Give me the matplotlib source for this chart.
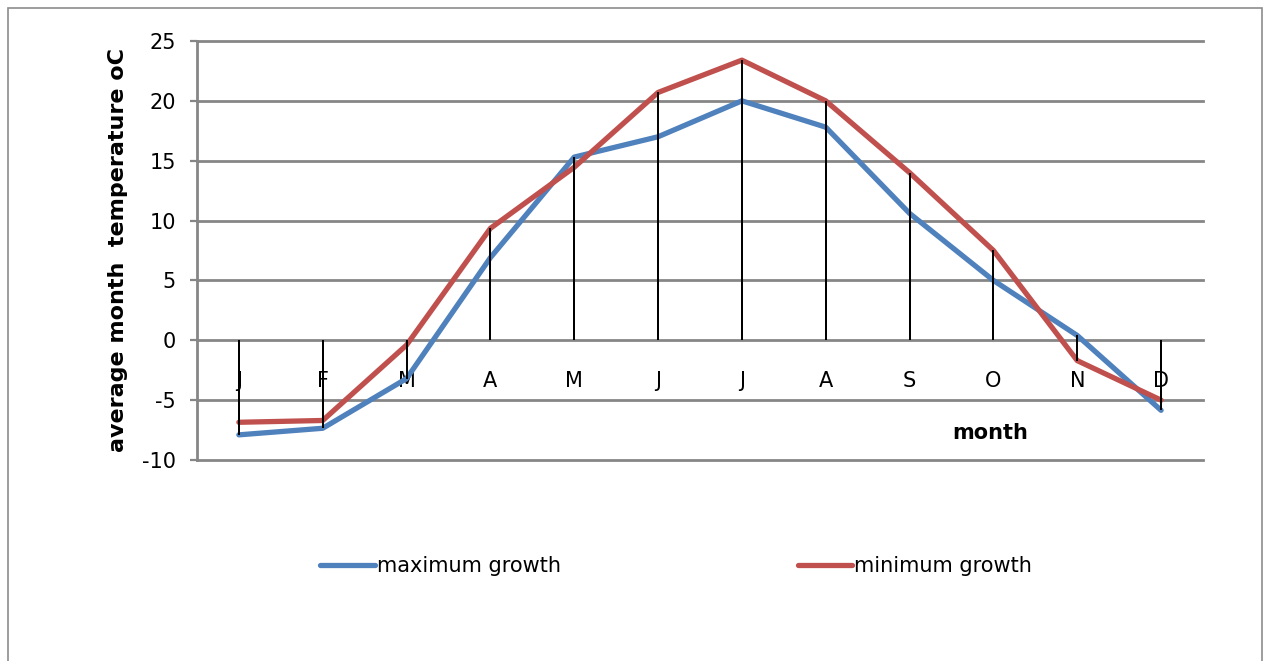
import matplotlib.pyplot as plt
from matplotlib.patches import Rectangle

# month initials and monthly values
months = ['J', 'F', 'M', 'A', 'M', 'J', 'J', 'A', 'S', 'O', 'N', 'D']
max_growth = [-7.9, -7.35, -3.2, 6.9, 15.3, 17.0, 20.0, 17.8, 10.6, 5.0, 0.4, -5.85]
min_growth = [-6.85, -6.7, -0.4, 9.35, 14.45, 20.7, 23.4, 20.0, 14.0, 7.5, -1.7, -5.0]
y_ticks = [-10, -5, 0, 5, 10, 15, 20, 25]

narrow = ['Liberation Sans Narrow', 'DejaVu Sans']
blue = '#4F81BD'
red = '#C0504D'
grid = '#868686'

fig = plt.figure(figsize=(12.69, 6.61), dpi=100)
ax = fig.add_axes([0.1552, 0.3041, 0.7928, 0.6339])

x = list(range(len(months)))

# horizontal gridlines
for v in y_ticks:
    ax.axhline(v, color=grid, lw=2.0, zorder=1, clip_on=False)

# drop lines down to the category axis
ax.vlines(x, 0, max_growth, color='black', lw=1.4, zorder=4)
ax.vlines(x, 0, min_growth, color='black', lw=1.4, zorder=4)

l1, = ax.plot(x, max_growth, color=blue, lw=3.8, solid_capstyle='round',
              solid_joinstyle='round', zorder=3, label='maximum growth')
l2, = ax.plot(x, min_growth, color=red, lw=3.8, solid_capstyle='round',
              solid_joinstyle='round', zorder=3, label='minimum growth')

ax.set_xlim(-0.5, len(months) - 0.5)
ax.set_ylim(-10, 25)
ax.set_yticks(y_ticks)
ax.set_yticklabels([str(v) for v in y_ticks], family=narrow, fontsize=15)
ax.tick_params(axis='y', direction='out', length=5, width=1.6, color=grid, pad=10)

# category labels sit just under the zero line
ax.set_xticks([])
for i, m in enumerate(months):
    ax.annotate(m, xy=(i, 0), xytext=(0, -22), textcoords='offset points',
                ha='center', va='top', fontsize=15, family=narrow, zorder=2)

for s in ['top', 'right', 'bottom']:
    ax.spines[s].set_visible(False)
ax.spines['left'].set_color(grid)
ax.spines['left'].set_linewidth(2.0)

ax.set_ylabel('average month  temperature oC', fontsize=16, fontweight='bold',
              labelpad=10)
ax.text(0.788, 0.064, 'month', transform=ax.transAxes, ha='center', va='center',
        fontsize=15, fontweight='bold', family=narrow)

fig.legend(handles=[l1, l2], loc='center', bbox_to_anchor=(0.533, 1 - 566 / 661),
           ncol=2, frameon=False, prop={'family': narrow, 'size': 15},
           handlelength=2.6, handletextpad=0.1, columnspacing=11.4)

# outer chart border
fig.patches.append(Rectangle((8 / 1269, -0.1), 1254 / 1269, 1.1 - 8 / 661,
                             transform=fig.transFigure, fill=False,
                             edgecolor='#8c8c8c', lw=1.2))

fig.savefig('out.png', dpi=100)
